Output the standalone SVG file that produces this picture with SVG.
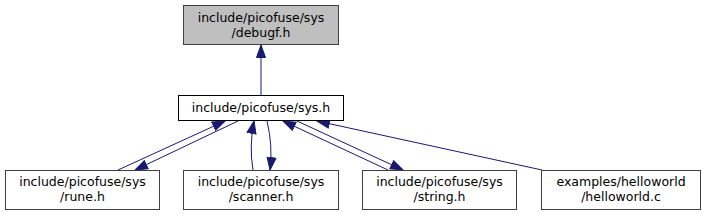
<svg xmlns="http://www.w3.org/2000/svg" width="706" height="216" viewBox="0 0 706 216">
<style>
  .box { fill: #ffffff; stroke: #404040; stroke-width: 1; }
  .cur { fill: #bfbfbf; stroke: #404040; stroke-width: 1; }
  .main { fill: #ffffff; stroke: #000000; stroke-width: 1; }
  .lbl { font-family: "DejaVu Sans", sans-serif; font-size: 12.5px; fill: #000000; text-anchor: middle; }
  .edge { fill: none; stroke: #191970; stroke-width: 1; marker-end: url(#ah); }
</style>
<defs>
  <marker id="ah" markerUnits="userSpaceOnUse" markerWidth="14" markerHeight="11" viewBox="0 0 14 11" refX="13" refY="5.5" orient="auto">
    <path d="M0.5,1 L13,5.5 L0.5,10 Z" fill="#191970" stroke="#191970" stroke-width="1"/>
  </marker>
</defs>
<rect width="706" height="216" fill="#ffffff"/>
<g id="edges">
  <path class="edge" d="M261,95 L261,45"/>
  <path class="edge" d="M118,170 L225,121"/>
  <path class="edge" d="M238,121 L135,170"/>
  <path class="edge" d="M253,170 Q249,146 254,121"/>
  <path class="edge" d="M267,121 Q273,146 270,170"/>
  <path class="edge" d="M388,170 L283,121"/>
  <path class="edge" d="M297,121 L403,170"/>
  <path class="edge" d="M542,170 L317,121"/>
</g>
<g id="node_debugf">
  <rect class="cur" x="183.5" y="5.5" width="155" height="39"/>
  <text class="lbl" x="261" y="22">include/picofuse/sys</text>
  <text class="lbl" x="261" y="37">/debugf.h</text>
</g>
<g id="node_sys">
  <rect class="main" x="178.5" y="95.5" width="165" height="25"/>
  <text class="lbl" x="261" y="112">include/picofuse/sys.h</text>
</g>
<g id="node_rune">
  <rect class="box" x="5.5" y="170.5" width="154" height="39"/>
  <text class="lbl" x="82.5" y="186">include/picofuse/sys</text>
  <text class="lbl" x="82.5" y="201">/rune.h</text>
</g>
<g id="node_scanner">
  <rect class="box" x="183.5" y="170.5" width="155" height="39"/>
  <text class="lbl" x="261" y="186">include/picofuse/sys</text>
  <text class="lbl" x="261" y="201">/scanner.h</text>
</g>
<g id="node_string">
  <rect class="box" x="362.5" y="170.5" width="154" height="39"/>
  <text class="lbl" x="439.5" y="186">include/picofuse/sys</text>
  <text class="lbl" x="439.5" y="201">/string.h</text>
</g>
<g id="node_helloworld">
  <rect class="box" x="541.5" y="170.5" width="159" height="39"/>
  <text class="lbl" x="621" y="186">examples/helloworld</text>
  <text class="lbl" x="621" y="201">/helloworld.c</text>
</g>
</svg>
